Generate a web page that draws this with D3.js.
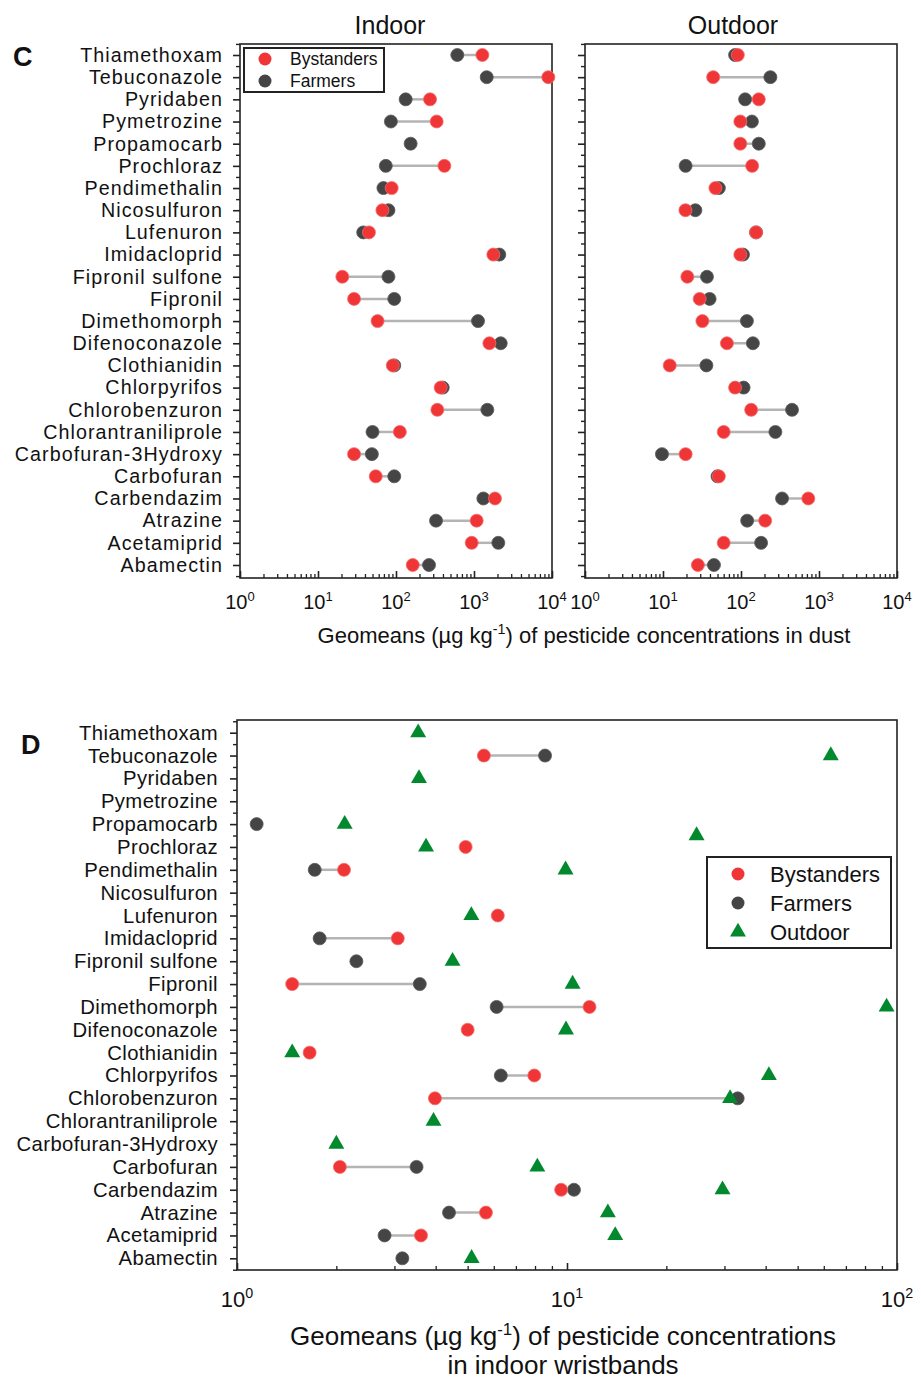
<!DOCTYPE html>
<html>
<head>
<meta charset="utf-8">
<script src="https://cdn.jsdelivr.net/npm/d3@7"></script>
<style>
  body { margin: 0; background: #fff; }
  text { font-family: "Liberation Sans", Arial, sans-serif; fill: #111; }
</style>
</head>
<body>
<div id="chart"></div>
<script>
// pesticides, top to bottom
const pesticides = ["Thiamethoxam", "Tebuconazole", "Pyridaben", "Pymetrozine", "Propamocarb",
    "Prochloraz", "Pendimethalin", "Nicosulfuron", "Lufenuron", "Imidacloprid", "Fipronil sulfone",
    "Fipronil", "Dimethomorph ", "Difenoconazole", "Clothianidin", "Chlorpyrifos", "Chlorobenzuron",
    "Chlorantraniliprole", "Carbofuran-3Hydroxy", "Carbofuran", "Carbendazim", "Atrazine",
    "Acetamiprid", "Abamectin"];

// panel C, dust (µg/kg)
const indoorBystanders = [1280, 8970, 273, 332, null, 417, 88, 67, 45, 1770, 20.5, 29, 58, 1575, 91, 374, 339, 112, 29, 55, 1858, 1082, 934, 164];
const indoorFarmers = [611, 1455, 133, 86, 154, 74, 69, 80, 38, 2110, 80, 95, 1125, 2200, 95, 397, 1483, 50, 49, 95, 1318, 326, 2050, 265];
const outdoorBystanders = [91, 44, 169, 98, 98, 139, 47, 19.4, 156, 98, 20.5, 29.5, 32, 66, 12.2, 84, 135, 60, 19.5, 52, 729, 204, 60, 28];
const outdoorFarmers = [84, 238, 113, 138, 169, 19.5, 52, 26, 156, 106, 36.6, 39.6, 119, 142, 36, 108, 451, 276, 9.7, 50, 336, 120, 181, 45];

// panel D, wristbands
const wristBystanders = [null, 5.6, null, null, null, 4.93, 2.11, null, 6.17, 3.07, null, 1.47, 11.7, 5.0, 1.66, 7.96, 3.98, null, null, 2.05, 9.6, 5.68, 3.61, null];
const wristFarmers = [null, 8.58, null, null, 1.147, null, 1.72, null, null, 1.78, 2.30, 3.58, 6.12, null, null, 6.3, 32.9, null, null, 3.5, 10.5, 4.39, 2.80, 3.17];
const wristOutdoor = [3.54, 63, 3.56, null, 2.12, 3.74, 9.9, null, 5.13, null, 4.5, 10.4, 93, 9.93, 1.47, 40.9, 31.2, 3.94, 2.0, 8.13, 29.6, 13.3, 14.0, 5.14];
// one triangle sits between two rows in the original
const wristOutdoorExtra = [{ row: 4.5, value: 24.7 }];

const dustDecades = [1, 10, 100, 1000, 10000];
const wristDecades = [1, 10, 100];

const RED = "#ef3535", DARK = "#454545", GREEN = "#02892d", LINE = "#b4b4b4";

const svg = d3.select("#chart").append("svg")
    .attr("width", 921).attr("height", 1379)
    .style("background", "#fff");

const idx = d3.range(pesticides.length);
const halfIdx = d3.range(pesticides.length + 1).map(i => i - 0.5);

function drawFrame(x0, x1, y0, y1) {
    svg.append("rect")
        .attr("x", x0).attr("y", y0)
        .attr("width", x1 - x0).attr("height", y1 - y0)
        .attr("fill", "none").attr("stroke", "#222").attr("stroke-width", 1.6);
}

function yAxis(y, xPos, labels, fontSize, pad, spacing) {
    let g = svg.append("g").attr("transform", `translate(${xPos},0)`)
        .call(d3.axisLeft(y).tickValues(idx).tickSize(7).tickPadding(pad)
            .tickFormat(i => labels ? pesticides[i] : ""));
    g.select(".domain").remove();
    g.selectAll("line").attr("stroke", "#222").attr("stroke-width", 1.6);
    g.selectAll("text").style("font-size", fontSize + "px")
        .style("letter-spacing", spacing + "px").attr("fill", "#111");
    let m = svg.append("g").attr("transform", `translate(${xPos},0)`)
        .call(d3.axisLeft(y).tickValues(halfIdx).tickSize(4).tickFormat(""));
    m.select(".domain").remove();
    m.selectAll("line").attr("stroke", "#222").attr("stroke-width", 1.4);
}

function xAxis(x, yPos, decades, fontSize, labelGap) {
    let minor = x.ticks().filter(v => !decades.includes(v));
    let g = svg.append("g").attr("transform", `translate(0,${yPos})`)
        .call(d3.axisBottom(x).tickValues(decades).tickSize(-7).tickFormat(""));
    g.select(".domain").remove();
    g.selectAll("line").attr("stroke", "#222").attr("stroke-width", 1.6);
    let m = svg.append("g").attr("transform", `translate(0,${yPos})`)
        .call(d3.axisBottom(x).tickValues(minor).tickSize(-4).tickFormat(""));
    m.select(".domain").remove();
    m.selectAll("line").attr("stroke", "#222").attr("stroke-width", 1.3);

    // 10^n labels
    decades.forEach(v => {
        let t = svg.append("text")
            .attr("x", x(v)).attr("y", yPos + labelGap)
            .attr("text-anchor", "middle")
            .style("font-size", fontSize + "px");
        t.append("tspan").text("10");
        t.append("tspan").attr("dy", -fontSize * 0.4)
            .style("font-size", (fontSize * 0.65) + "px")
            .text(Math.round(Math.log10(v)));
    });
}

function dumbbells(x, y, bystanders, farmers, r) {
    let rows = idx.map(i => ({ i: i, b: bystanders[i], f: farmers[i] }));
    svg.append("g").selectAll("line")
        .data(rows.filter(d => d.b != null && d.f != null))
        .join("line")
        .attr("x1", d => x(d.b)).attr("x2", d => x(d.f))
        .attr("y1", d => y(d.i)).attr("y2", d => y(d.i))
        .attr("stroke", LINE).attr("stroke-width", 2.5);
    svg.append("g").selectAll("circle")
        .data(rows.filter(d => d.f != null))
        .join("circle")
        .attr("cx", d => x(d.f)).attr("cy", d => y(d.i)).attr("r", r)
        .attr("fill", DARK).attr("stroke", "#5a5a5a").attr("stroke-width", 0.8);
    svg.append("g").selectAll("circle")
        .data(rows.filter(d => d.b != null))
        .join("circle")
        .attr("cx", d => x(d.b)).attr("cy", d => y(d.i)).attr("r", r)
        .attr("fill", RED).attr("stroke", "#f56a6a").attr("stroke-width", 0.8);
}

function axisTitle(lines, cx, y0, lineH, fontSize) {
    lines.forEach((ln, k) => {
        let t = svg.append("text")
            .attr("x", cx).attr("y", y0 + k * lineH)
            .attr("text-anchor", "middle")
            .style("font-size", fontSize + "px");
        if (ln.includes("^")) {
            let [a, rest] = ln.split("^");
            let [sup, b] = rest.split("|");
            t.append("tspan").text(a);
            t.append("tspan").attr("dy", -fontSize * 0.4).style("font-size", (fontSize * 0.65) + "px").text(sup);
            t.append("tspan").attr("dy", fontSize * 0.4).text(b);
        } else {
            t.text(ln);
        }
    });
}

/* * * * * * * * * * * * * *
 *   Panel C: dust          *
 * * * * * * * * * * * * * */
const cTop = 44, cBottom = 578;
const yC = d3.scaleLinear().domain([0, pesticides.length - 1]).range([55, 565]);
const xIn = d3.scaleLog().domain([1, 10000]).range([240, 552]);
const xOut = d3.scaleLog().domain([1, 10000]).range([585, 897]);

drawFrame(240, 552, cTop, cBottom);
drawFrame(585, 897, cTop, cBottom);
yAxis(yC, 240, true, 19.7, 10, 1.05);
yAxis(yC, 585, false, 19.7, 10, 0);
xAxis(xIn, cBottom, dustDecades, 20, 31);
xAxis(xOut, cBottom, dustDecades, 20, 31);
dumbbells(xIn, yC, indoorBystanders, indoorFarmers, 6.5);
dumbbells(xOut, yC, outdoorBystanders, outdoorFarmers, 6.5);

svg.append("text").attr("x", 390).attr("y", 34).attr("text-anchor", "middle")
    .style("font-size", "25px").text("Indoor");
svg.append("text").attr("x", 733).attr("y", 34).attr("text-anchor", "middle")
    .style("font-size", "25px").text("Outdoor");
svg.append("text").attr("x", 13).attr("y", 66)
    .style("font-size", "27px").style("font-weight", "bold").text("C");

axisTitle(["Geomeans (µg kg^-1|) of pesticide concentrations in dust"], 584, 643, 0, 22);

// legend C
const legC = svg.append("g").attr("transform", "translate(244,48)");
legC.append("rect").attr("width", 140).attr("height", 44)
    .attr("fill", "#fff").attr("stroke", "#222").attr("stroke-width", 2);
[["Bystanders", RED], ["Farmers", DARK]].forEach(([name, col], k) => {
    legC.append("circle").attr("cx", 21).attr("cy", 11 + k * 22).attr("r", 6.5).attr("fill", col);
    legC.append("text").attr("x", 46).attr("y", 17 + k * 22)
        .style("font-size", "17.5px").text(name);
});

/* * * * * * * * * * * * * *
 *   Panel D: wristbands    *
 * * * * * * * * * * * * * */
const dTop = 720, dBottom = 1270;
const yD = d3.scaleLinear().domain([0, pesticides.length - 1]).range([732.7, 1258.3]);
const xW = d3.scaleLog().domain([1, 100]).range([237, 897]);

drawFrame(237, 897, dTop, dBottom);
yAxis(yD, 237, true, 20.3, 12, 0.4);
xAxis(xW, dBottom, wristDecades, 22, 37);
dumbbells(xW, yD, wristBystanders, wristFarmers, 6.5);

const tri = d3.symbol().type(d3.symbolTriangle).size(110);
const outRows = idx.filter(i => wristOutdoor[i] != null).map(i => ({ row: i, value: wristOutdoor[i] }))
    .concat(wristOutdoorExtra);
svg.append("g").selectAll("path")
    .data(outRows)
    .join("path")
    .attr("d", tri)
    .attr("transform", d => `translate(${xW(d.value)},${yD(d.row)})`)
    .attr("fill", GREEN);

svg.append("text").attr("x", 21).attr("y", 754)
    .style("font-size", "27px").style("font-weight", "bold").text("D");

axisTitle(["Geomeans (µg kg^-1|) of pesticide concentrations", "in indoor wristbands"], 563, 1345, 29, 26);

// legend D
const legD = svg.append("g").attr("transform", "translate(707,857)");
legD.append("rect").attr("width", 184).attr("height", 91)
    .attr("fill", "#fff").attr("stroke", "#222").attr("stroke-width", 2);
[["Bystanders", RED, "c"], ["Farmers", DARK, "c"], ["Outdoor", GREEN, "t"]].forEach(([name, col, s], k) => {
    let cy = 17 + k * 29;
    if (s === "c") {
        legD.append("circle").attr("cx", 31).attr("cy", cy).attr("r", 6.5).attr("fill", col);
    } else {
        legD.append("path").attr("d", tri).attr("transform", `translate(31,${cy})`).attr("fill", col);
    }
    legD.append("text").attr("x", 63).attr("y", cy + 8)
        .style("font-size", "22px").text(name);
});
</script>
</body>
</html>
